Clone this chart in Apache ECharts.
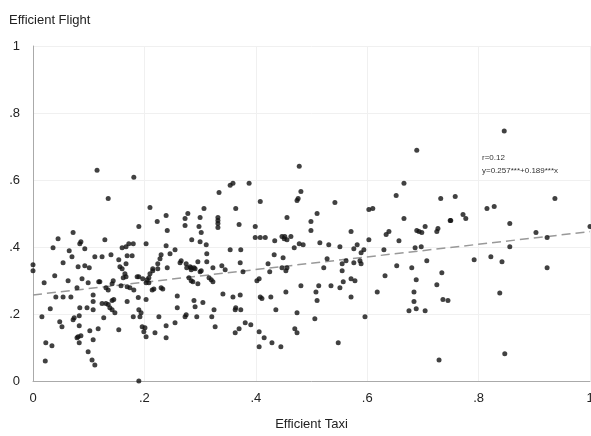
<!DOCTYPE html>
<html>
<head>
<meta charset="utf-8">
<script src="https://cdn.jsdelivr.net/npm/echarts@6/dist/echarts.min.js"></script>
<style>
  html, body { margin: 0; padding: 0; background: #fff; }
  #chart { width: 591px; height: 436px; }
</style>
</head>
<body>
<div id="chart"></div>
<script>
// Observations: efficient taxi share (x) vs efficient flight share (y)
const taxi = [
  0.115,0.181,0.135,0.210,0.223,0.239,0.190,0.241,0.072,0.045,0.129,0.086,0.084,0.036,0.093,0.172,0.180,0.160,0.167,0.203,
  0.239,0.065,0.246,0.070,0.111,0.124,0.140,0.169,0.178,0.154,0.230,0.228,0.054,0.000,0.081,0.093,0.101,0.156,0.160,0.167,
  0.224,0.215,0.241,0.000,0.165,0.162,0.167,0.039,0.020,0.063,0.088,0.099,0.118,0.120,0.131,0.135,0.142,0.144,0.158,0.169,
  0.174,0.181,0.187,0.190,0.197,0.205,0.208,0.203,0.208,0.210,0.215,0.224,0.214,0.217,0.230,0.233,0.079,0.041,0.054,0.068,
  0.108,0.108,0.124,0.131,0.135,0.142,0.145,0.169,0.189,0.203,0.084,0.097,0.108,0.138,0.142,0.147,0.190,0.194,0.031,0.016,
  0.083,0.074,0.072,0.127,0.180,0.192,0.226,0.048,0.052,0.083,0.102,0.117,0.154,0.196,0.201,0.199,0.239,0.219,0.203,0.239,
  0.081,0.086,0.079,0.108,0.083,0.023,0.034,0.099,0.106,0.111,0.022,0.190,
  0.478,0.354,0.359,0.388,0.334,0.481,0.476,0.474,0.408,0.307,0.364,0.278,0.273,0.273,0.300,0.298,0.332,0.332,0.332,0.332,
  0.370,0.399,0.456,0.499,0.499,0.302,0.285,0.300,0.311,0.399,0.408,0.417,0.434,0.447,0.451,0.452,0.456,0.463,0.478,0.485,
  0.469,0.354,0.373,0.255,0.312,0.433,0.449,0.266,0.264,0.275,0.282,0.276,0.284,0.289,0.296,0.312,0.323,0.339,0.372,0.422,
  0.447,0.456,
  0.284,0.291,0.300,0.302,0.345,0.377,0.425,0.454,0.280,0.284,0.287,0.296,0.316,0.320,0.323,0.402,0.406,0.481,0.454,0.259,
  0.341,0.359,0.372,0.408,0.411,0.427,0.289,0.305,0.259,0.291,0.325,0.364,0.363,0.373,0.436,0.474,0.275,0.273,0.294,0.321,
  0.255,0.327,0.381,0.391,0.370,0.363,0.406,0.415,0.470,0.474,0.429,0.406,0.445,
  0.689,0.666,0.652,0.732,0.542,0.603,0.610,0.510,0.666,0.750,0.704,0.689,0.693,0.698,0.727,0.725,0.639,0.634,0.571,0.603,
  0.657,0.515,0.531,0.551,0.582,0.576,0.594,0.589,0.630,0.686,0.697,0.528,0.562,0.555,0.576,0.587,0.589,0.707,0.522,0.653,
  0.680,
  0.555,0.734,0.632,0.688,0.571,0.578,0.557,0.513,0.535,0.551,0.725,0.508,0.618,0.684,0.571,0.510,0.684,0.736,0.745,0.675,
  0.688,0.704,0.596,0.506,0.548,0.729,
  0.846,0.758,0.937,0.815,0.828,0.772,0.777,0.749,0.856,0.903,0.923,1.000,0.856,0.792,0.822,0.842,0.923,0.838,0.847
];
const flight = [
  0.629,0.608,0.545,0.518,0.476,0.494,0.461,0.449,0.443,0.425,0.422,0.416,0.410,0.398,0.395,0.410,0.410,0.398,0.401,0.410,
  0.404,0.389,0.380,0.371,0.371,0.371,0.377,0.374,0.374,0.362,0.377,0.365,0.353,0.347,0.341,0.344,0.338,0.341,0.335,0.350,
  0.350,0.335,0.338,0.329,0.320,0.308,0.311,0.314,0.293,0.299,0.305,0.293,0.296,0.296,0.278,0.272,0.290,0.299,0.284,0.281,
  0.278,0.272,0.311,0.311,0.305,0.302,0.308,0.293,0.293,0.320,0.329,0.335,0.272,0.275,0.278,0.275,0.278,0.251,0.251,0.251,
  0.257,0.237,0.231,0.231,0.228,0.240,0.243,0.237,0.249,0.243,0.219,0.219,0.213,0.219,0.213,0.204,0.213,0.204,0.216,0.192,
  0.195,0.189,0.183,0.189,0.192,0.192,0.192,0.177,0.162,0.165,0.150,0.156,0.153,0.162,0.159,0.147,0.165,0.144,0.132,0.129,
  0.132,0.135,0.129,0.123,0.114,0.114,0.105,0.087,0.063,0.048,0.060,0.000,
  0.641,0.584,0.590,0.590,0.563,0.566,0.545,0.539,0.536,0.515,0.515,0.500,0.485,0.464,0.488,0.461,0.488,0.479,0.470,0.458,
  0.467,0.461,0.488,0.476,0.449,0.443,0.422,0.416,0.407,0.428,0.428,0.428,0.419,0.431,0.425,0.431,0.422,0.431,0.410,0.407,
  0.398,0.392,0.392,0.392,0.380,0.377,0.368,0.359,0.353,0.350,0.341,0.338,0.338,0.338,0.356,0.356,0.338,0.344,0.353,0.350,
  0.338,0.338,
  0.332,0.335,0.326,0.329,0.332,0.326,0.326,0.329,0.308,0.299,0.296,0.290,0.308,0.302,0.296,0.299,0.305,0.284,0.266,0.254,
  0.260,0.251,0.257,0.251,0.246,0.251,0.240,0.234,0.219,0.222,0.213,0.219,0.213,0.213,0.213,0.204,0.198,0.192,0.192,0.192,
  0.174,0.162,0.174,0.168,0.156,0.144,0.147,0.129,0.156,0.144,0.114,0.102,0.102,
  0.689,0.590,0.554,0.545,0.533,0.512,0.515,0.500,0.485,0.479,0.461,0.449,0.446,0.443,0.455,0.446,0.446,0.437,0.446,0.422,
  0.419,0.413,0.407,0.401,0.407,0.395,0.392,0.383,0.392,0.398,0.401,0.365,0.359,0.350,0.353,0.359,0.350,0.359,0.338,0.344,
  0.338,
  0.329,0.323,0.314,0.302,0.305,0.299,0.296,0.284,0.284,0.278,0.287,0.266,0.266,0.266,0.251,0.240,0.237,0.243,0.240,0.210,
  0.216,0.210,0.192,0.186,0.114,0.063,
  0.746,0.551,0.545,0.515,0.521,0.497,0.485,0.479,0.470,0.443,0.428,0.461,0.401,0.362,0.371,0.356,0.338,0.263,0.081
];

// Fitted line: y = 0.257 + 0.189x
const fitIntercept = 0.257;
const fitSlope = 0.189;
const fitR = 0.12;
const xTicks = { 0: '0', 0.2: '.2', 0.4: '.4', 0.6: '.6', 0.8: '.8', 1: '1' };

const points = taxi.map((x, i) => [x, flight[i]]);
const fitLine = [[0, fitIntercept], [1, fitIntercept + fitSlope]];
const tickFmt = v => xTicks[Math.round(v * 10) / 10] ?? '';

const chart = echarts.init(document.getElementById('chart'), null, { renderer: 'canvas' });
const FONT = '"Liberation Sans", Arial, Helvetica, sans-serif';

chart.setOption({
  animation: false,
  backgroundColor: '#fff',
  textStyle: { fontFamily: FONT },
  title: {
    text: 'Efficient Flight',
    left: 4, top: 9,
    textStyle: { fontFamily: FONT, fontSize: 13, fontWeight: 'normal', color: '#222' }
  },
  grid: { left: 33, right: 1, top: 46, bottom: 55, outerBoundsMode: 'none', containLabel: false },
  xAxis: {
    type: 'value', min: 0, max: 1, interval: 0.2,
    name: 'Efficient Taxi', nameLocation: 'middle', nameGap: 37,
    nameTextStyle: { fontFamily: FONT, fontSize: 13, color: '#222' },
    axisLine: { show: true, lineStyle: { color: '#aaa', width: 1 } },
    axisTick: { show: false },
    axisLabel: { formatter: tickFmt, fontFamily: FONT, fontSize: 13, color: '#222', margin: 11 },
    splitLine: { show: true, lineStyle: { color: '#f0f0f0', width: 1 } }
  },
  yAxis: {
    type: 'value', min: 0, max: 1, interval: 0.2,
    axisLine: { show: true, lineStyle: { color: '#aaa', width: 1 } },
    axisTick: { show: false },
    axisLabel: { formatter: tickFmt, fontFamily: FONT, fontSize: 13, color: '#222', margin: 13 },
    splitLine: { show: true, lineStyle: { color: '#f0f0f0', width: 1 } }
  },
  graphic: [
    {
      type: 'text', left: 482, top: 151,
      style: {
        text: 'r=' + fitR.toFixed(2) + '\ny=' + fitIntercept.toFixed(3) + '***+' + fitSlope.toFixed(3) + '***x',
        font: '8px ' + FONT, fill: '#333', lineHeight: 13
      }
    }
  ],
  series: [
    {
      type: 'line',
      data: fitLine,
      symbol: 'none',
      silent: true,
      z: 1,
      lineStyle: { color: '#999', width: 1.5, type: [9, 5] }
    },
    {
      type: 'scatter',
      data: points,
      symbol: 'circle',
      symbolSize: 5,
      z: 2,
      itemStyle: { color: '#111' }
    }
  ]
});
</script>
</body>
</html>
